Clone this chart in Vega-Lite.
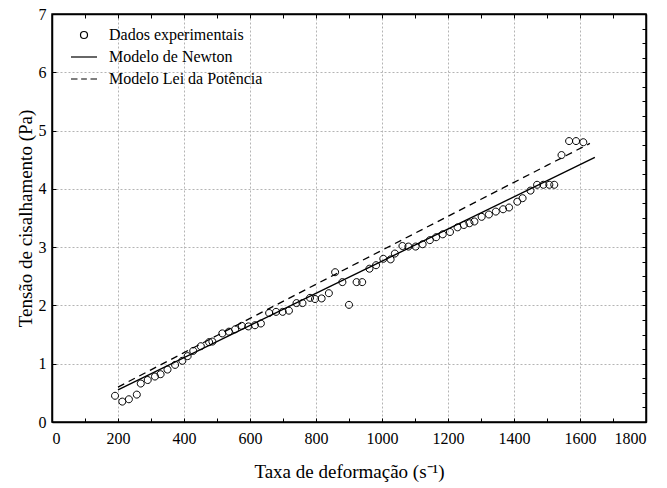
{
  "$schema": "https://vega.github.io/schema/vega-lite/v6.json",
  "width": 594,
  "height": 408,
  "autosize": {"type": "none"},
  "padding": {"left": 52, "top": 14, "right": 21, "bottom": 66},
  "background": "white",
  "config": {
    "font": "Liberation Serif",
    "view": {"stroke": "black", "strokeWidth": 1.5},
    "axis": {
      "domainColor": "black",
      "domainWidth": 1.5,
      "tickColor": "black",
      "tickWidth": 1,
      "labelColor": "black",
      "labelFont": "Liberation Serif",
      "labelFontSize": 16,
      "titleFont": "Liberation Serif",
      "titleFontSize": 19,
      "titleFontWeight": "normal",
      "titleColor": "black",
      "gridColor": "#b4b4b4",
      "gridDash": [2, 2],
      "gridWidth": 1
    }
  },
  "datasets": {
    "dados": [
      {"taxa": 191, "tensao": 0.45, "serie": "Dados experimentais"},
      {"taxa": 213, "tensao": 0.35, "serie": "Dados experimentais"},
      {"taxa": 233, "tensao": 0.39, "serie": "Dados experimentais"},
      {"taxa": 257, "tensao": 0.47, "serie": "Dados experimentais"},
      {"taxa": 269, "tensao": 0.66, "serie": "Dados experimentais"},
      {"taxa": 290, "tensao": 0.72, "serie": "Dados experimentais"},
      {"taxa": 312, "tensao": 0.78, "serie": "Dados experimentais"},
      {"taxa": 329, "tensao": 0.82, "serie": "Dados experimentais"},
      {"taxa": 350, "tensao": 0.90, "serie": "Dados experimentais"},
      {"taxa": 373, "tensao": 0.98, "serie": "Dados experimentais"},
      {"taxa": 395, "tensao": 1.05, "serie": "Dados experimentais"},
      {"taxa": 411, "tensao": 1.13, "serie": "Dados experimentais"},
      {"taxa": 428, "tensao": 1.22, "serie": "Dados experimentais"},
      {"taxa": 451, "tensao": 1.30, "serie": "Dados experimentais"},
      {"taxa": 476, "tensao": 1.37, "serie": "Dados experimentais"},
      {"taxa": 486, "tensao": 1.38, "serie": "Dados experimentais"},
      {"taxa": 516, "tensao": 1.52, "serie": "Dados experimentais"},
      {"taxa": 536, "tensao": 1.55, "serie": "Dados experimentais"},
      {"taxa": 555, "tensao": 1.59, "serie": "Dados experimentais"},
      {"taxa": 575, "tensao": 1.65, "serie": "Dados experimentais"},
      {"taxa": 595, "tensao": 1.64, "serie": "Dados experimentais"},
      {"taxa": 615, "tensao": 1.66, "serie": "Dados experimentais"},
      {"taxa": 633, "tensao": 1.69, "serie": "Dados experimentais"},
      {"taxa": 658, "tensao": 1.87, "serie": "Dados experimentais"},
      {"taxa": 679, "tensao": 1.89, "serie": "Dados experimentais"},
      {"taxa": 699, "tensao": 1.89, "serie": "Dados experimentais"},
      {"taxa": 718, "tensao": 1.91, "serie": "Dados experimentais"},
      {"taxa": 741, "tensao": 2.04, "serie": "Dados experimentais"},
      {"taxa": 759, "tensao": 2.04, "serie": "Dados experimentais"},
      {"taxa": 782, "tensao": 2.13, "serie": "Dados experimentais"},
      {"taxa": 797, "tensao": 2.11, "serie": "Dados experimentais"},
      {"taxa": 817, "tensao": 2.12, "serie": "Dados experimentais"},
      {"taxa": 839, "tensao": 2.21, "serie": "Dados experimentais"},
      {"taxa": 858, "tensao": 2.57, "serie": "Dados experimentais"},
      {"taxa": 880, "tensao": 2.40, "serie": "Dados experimentais"},
      {"taxa": 900, "tensao": 2.01, "serie": "Dados experimentais"},
      {"taxa": 923, "tensao": 2.40, "serie": "Dados experimentais"},
      {"taxa": 940, "tensao": 2.40, "serie": "Dados experimentais"},
      {"taxa": 962, "tensao": 2.63, "serie": "Dados experimentais"},
      {"taxa": 982, "tensao": 2.69, "serie": "Dados experimentais"},
      {"taxa": 1004, "tensao": 2.80, "serie": "Dados experimentais"},
      {"taxa": 1026, "tensao": 2.79, "serie": "Dados experimentais"},
      {"taxa": 1039, "tensao": 2.89, "serie": "Dados experimentais"},
      {"taxa": 1062, "tensao": 3.02, "serie": "Dados experimentais"},
      {"taxa": 1080, "tensao": 3.01, "serie": "Dados experimentais"},
      {"taxa": 1102, "tensao": 3.01, "serie": "Dados experimentais"},
      {"taxa": 1123, "tensao": 3.05, "serie": "Dados experimentais"},
      {"taxa": 1145, "tensao": 3.12, "serie": "Dados experimentais"},
      {"taxa": 1164, "tensao": 3.17, "serie": "Dados experimentais"},
      {"taxa": 1184, "tensao": 3.22, "serie": "Dados experimentais"},
      {"taxa": 1206, "tensao": 3.26, "serie": "Dados experimentais"},
      {"taxa": 1229, "tensao": 3.34, "serie": "Dados experimentais"},
      {"taxa": 1248, "tensao": 3.38, "serie": "Dados experimentais"},
      {"taxa": 1265, "tensao": 3.41, "serie": "Dados experimentais"},
      {"taxa": 1280, "tensao": 3.44, "serie": "Dados experimentais"},
      {"taxa": 1302, "tensao": 3.52, "serie": "Dados experimentais"},
      {"taxa": 1324, "tensao": 3.56, "serie": "Dados experimentais"},
      {"taxa": 1345, "tensao": 3.61, "serie": "Dados experimentais"},
      {"taxa": 1367, "tensao": 3.65, "serie": "Dados experimentais"},
      {"taxa": 1385, "tensao": 3.68, "serie": "Dados experimentais"},
      {"taxa": 1410, "tensao": 3.78, "serie": "Dados experimentais"},
      {"taxa": 1426, "tensao": 3.84, "serie": "Dados experimentais"},
      {"taxa": 1450, "tensao": 3.97, "serie": "Dados experimentais"},
      {"taxa": 1470, "tensao": 4.07, "serie": "Dados experimentais"},
      {"taxa": 1489, "tensao": 4.07, "serie": "Dados experimentais"},
      {"taxa": 1507, "tensao": 4.07, "serie": "Dados experimentais"},
      {"taxa": 1522, "tensao": 4.07, "serie": "Dados experimentais"},
      {"taxa": 1544, "tensao": 4.58, "serie": "Dados experimentais"},
      {"taxa": 1567, "tensao": 4.82, "serie": "Dados experimentais"},
      {"taxa": 1588, "tensao": 4.82, "serie": "Dados experimentais"},
      {"taxa": 1610, "tensao": 4.80, "serie": "Dados experimentais"}
    ],
    "newton": [
      {"taxa": 200, "tensao": 0.552},
      {"taxa": 1645, "tensao": 4.54}
    ],
    "potencia": [
      {"taxa": 200, "tensao": 0.599},
      {"taxa": 300, "tensao": 0.895},
      {"taxa": 400, "tensao": 1.190},
      {"taxa": 500, "tensao": 1.484},
      {"taxa": 600, "tensao": 1.777},
      {"taxa": 700, "tensao": 2.070},
      {"taxa": 800, "tensao": 2.363},
      {"taxa": 900, "tensao": 2.655},
      {"taxa": 1000, "tensao": 2.947},
      {"taxa": 1100, "tensao": 3.239},
      {"taxa": 1200, "tensao": 3.530},
      {"taxa": 1300, "tensao": 3.821},
      {"taxa": 1400, "tensao": 4.112},
      {"taxa": 1500, "tensao": 4.402},
      {"taxa": 1630, "tensao": 4.78}
    ]
  },
  "layer": [
    {
      "data": {"name": "dados"},
      "mark": {"type": "point", "filled": false, "stroke": "black", "strokeWidth": 1, "size": 676, "opacity": 1},
      "encoding": {
        "x": {
          "field": "taxa", "type": "quantitative",
          "scale": {"domain": [0, 1800], "nice": false, "zero": false},
          "axis": {
            "orient": "bottom",
            "values": [0,100,200,300,400,500,600,700,800,900,1000,1100,1200,1300,1400,1500,1600,1700,1800],
            "format": "d",
            "labelExpr": "datum.value % 200 === 0 ? datum.label : ''",
            "grid": true,
            "gridOpacity": {"condition": {"test": "datum.value % 200 === 0 && datum.value > 0 && datum.value < 1800", "value": 1}, "value": 0},
            "tickSize": -4,
            "labelPadding": 12,
            "title": "Taxa de deformação (s⁻¹)",
            "titleY": 49,
            "titleBaseline": "middle"
          }
        },
        "y": {
          "field": "tensao", "type": "quantitative",
          "scale": {"domain": [0, 7], "nice": false},
          "axis": {
            "orient": "left",
            "values": [0,0.25,0.5,0.75,1,1.25,1.5,1.75,2,2.25,2.5,2.75,3,3.25,3.5,3.75,4,4.25,4.5,4.75,5,5.25,5.5,5.75,6,6.25,6.5,6.75,7],
            "format": "d",
            "labelExpr": "datum.value % 1 === 0 ? datum.label : ''",
            "grid": true,
            "gridOpacity": {"condition": {"test": "datum.value % 1 === 0 && datum.value > 0 && datum.value < 7", "value": 1}, "value": 0},
            "tickSize": -4,
            "labelPadding": 10,
            "title": "Tensão de cisalhamento (Pa)",
            "titleX": -27,
            "titleBaseline": "middle"
          }
        },
        "shape": {
          "field": "serie", "type": "nominal",
          "scale": {
            "domain": ["Dados experimentais", "Modelo de Newton", "Modelo Lei da Potência"],
            "range": [
              "M0.27,0A0.27,0.27,0,1,1,-0.27,0A0.27,0.27,0,1,1,0.27,0Z",
              "M-1,0L1,0",
              "M-1,0L-0.5,0M-0.22,0L0.22,0M0.5,0L1,0"
            ]
          },
          "legend": {
            "orient": "none",
            "legendX": 18,
            "legendY": 7,
            "title": null,
            "padding": 0,
            "symbolSize": 676,
            "symbolStrokeColor": "black",
            "symbolStrokeWidth": 1.2,
            "symbolFillColor": "transparent",
            "labelFont": "Liberation Serif",
            "labelFontSize": 16,
            "labelColor": "black",
            "labelOffset": 11,
            "rowPadding": -4
          }
        }
      }
    },
    {
      "data": {"name": "newton"},
      "mark": {"type": "line", "color": "black", "strokeWidth": 1.4},
      "encoding": {
        "x": {
          "field": "taxa", "type": "quantitative",
          "axis": {
            "orient": "top",
            "values": [0,100,200,300,400,500,600,700,800,900,1000,1100,1200,1300,1400,1500,1600,1700,1800],
            "labels": false, "grid": false, "tickSize": -4, "title": null
          }
        },
        "y": {
          "field": "tensao", "type": "quantitative",
          "axis": {
            "orient": "right",
            "values": [0,0.25,0.5,0.75,1,1.25,1.5,1.75,2,2.25,2.5,2.75,3,3.25,3.5,3.75,4,4.25,4.5,4.75,5,5.25,5.5,5.75,6,6.25,6.5,6.75,7],
            "labels": false, "grid": false, "tickSize": -4, "title": null
          }
        }
      }
    },
    {
      "data": {"name": "potencia"},
      "mark": {"type": "line", "color": "black", "strokeWidth": 1.3, "strokeDash": [7, 5]},
      "encoding": {
        "x": {"field": "taxa", "type": "quantitative", "axis": null},
        "y": {"field": "tensao", "type": "quantitative", "axis": null}
      }
    }
  ]
}
